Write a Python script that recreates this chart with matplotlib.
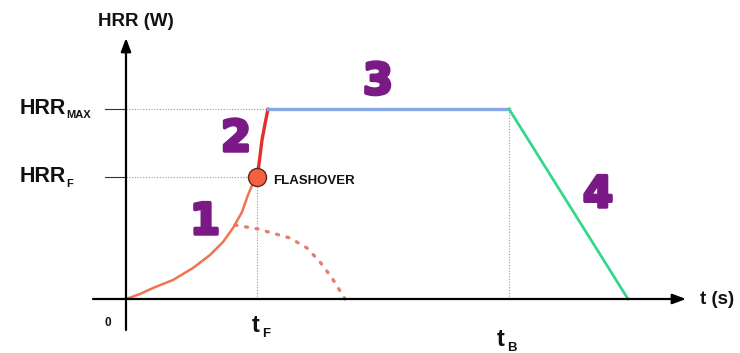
import matplotlib
matplotlib.use("Agg")
import matplotlib.pyplot as plt
import matplotlib.patheffects as pe

# ---- data (arbitrary units: t in s, HRR in W) ----
t_growth = [0, 14, 27, 47, 67, 84, 97, 107, 116, 122, 127, 131]
hrr_growth = [0, 5, 11, 19, 31, 44, 57, 71, 87, 104, 116, 122]
t_flash = [131, 133, 136, 139, 142]
hrr_flash = [122, 135, 159, 175, 190]
t_steady = [142, 383]
hrr_steady = [190, 190]
t_decay = [383, 502]
hrr_decay = [190, 0]
t_nofl = [109, 132, 164, 181, 194, 206, 219]
hrr_nofl = [74, 70, 61, 51, 37, 21, 0]
t_F, t_B = 131, 383
HRR_F, HRR_MAX = 122, 190
phase_labels = ["1", "2", "3", "4"]
phase_pos_t = [79, 110, 252, 472]
phase_pos_h = [77, 160, 217, 104]

fig = plt.figure(figsize=(7.40, 3.53), dpi=100)
ax = fig.add_axes([0, 0, 1, 1])
ax.set_xlim(-126, 614)
ax.set_ylim(-54, 299)
ax.axis("off")

bold = dict(family="Liberation Sans", fontweight="bold", color="#111111")
purple = "#7B1A86"

# axes with arrows
ax.annotate("", xy=(560, 0), xytext=(-33, 0),
            arrowprops=dict(arrowstyle="-|>,head_length=0.8,head_width=0.3",
                            lw=1.6, color="black", shrinkA=0, shrinkB=0))
ax.annotate("", xy=(0, 261), xytext=(0, -31),
            arrowprops=dict(arrowstyle="-|>,head_length=0.8,head_width=0.3",
                            lw=1.6, color="black", shrinkA=0, shrinkB=0))

# guides
gcol = "#9a9a9a"
ax.plot([0, t_flash[-1]], [HRR_MAX, HRR_MAX], ls=(0, (1, 1.5)), lw=0.8, color=gcol)
ax.plot([0, t_F], [HRR_F, HRR_F], ls=(0, (1, 1.5)), lw=0.8, color=gcol)
ax.plot([t_F, t_F], [0, HRR_F], ls=(0, (1, 1.5)), lw=0.8, color=gcol)
ax.plot([t_B, t_B], [0, HRR_MAX], ls=(0, (1, 1.5)), lw=0.8, color=gcol)
ax.plot([-21, 0], [HRR_MAX, HRR_MAX], lw=0.8, color="#333333")
ax.plot([-21, 0], [HRR_F, HRR_F], lw=0.8, color="#333333")

# curves
ax.plot(t_nofl, hrr_nofl, ls=(0, (0.6, 2.6)), lw=2.4, color="#E4806E",
        solid_capstyle="round", dash_capstyle="round")
ax.plot(t_growth, hrr_growth, lw=1.8, color="#F07452", solid_capstyle="round",
        solid_joinstyle="round")
ax.plot(t_flash, hrr_flash, lw=2.4, color="#E0302A", solid_capstyle="round")
ax.plot(t_steady, hrr_steady, lw=2.4, color="#86A6E6")
ax.plot(t_decay, hrr_decay, lw=2.0, color="#38D68A")
ax.plot([t_F], [HRR_F], "o", ms=13, mfc="#F7603E", mec="#5a2a22", mew=1.0)

# labels
ax.text(t_F + 16, HRR_F - 4, "FLASHOVER", fontsize=9.5, va="center", ha="left", **bold)
ax.text(-28, 277, "HRR (W)", fontsize=13.5, ha="left", va="center", **bold)
ax.text(574, 0, "t (s)", fontsize=13.5, ha="left", va="center", **bold)
ax.text(-106, HRR_MAX, "HRR", fontsize=15.5, ha="left", va="center", **bold)
ax.text(-60, HRR_MAX - 6, "MAX", fontsize=8, ha="left", va="center", **bold)
ax.text(-106, HRR_F, "HRR", fontsize=15.5, ha="left", va="center", **bold)
ax.text(-60, HRR_F - 7, "F", fontsize=8, ha="left", va="center", **bold)
ax.text(-18, -24, "0", fontsize=8.5, ha="center", va="center", **bold)
ax.text(t_F - 1, -26, "t", fontsize=17, ha="center", va="center", **bold)
ax.text(t_F + 5, -35, "F", fontsize=9.5, ha="left", va="center", **bold)
ax.text(t_B - 8, -40, "t", fontsize=17, ha="center", va="center", **bold)
ax.text(t_B - 2, -49, "B", fontsize=9.5, ha="left", va="center", **bold)

for lab, x, y in zip(phase_labels, phase_pos_t, phase_pos_h):
    ax.text(x, y, lab, fontsize=31, ha="center", va="center", color=purple,
            family="DejaVu Sans", fontweight="heavy",
            path_effects=[pe.withStroke(linewidth=2.5, foreground=purple)])

fig.savefig("out.png", dpi=100)
